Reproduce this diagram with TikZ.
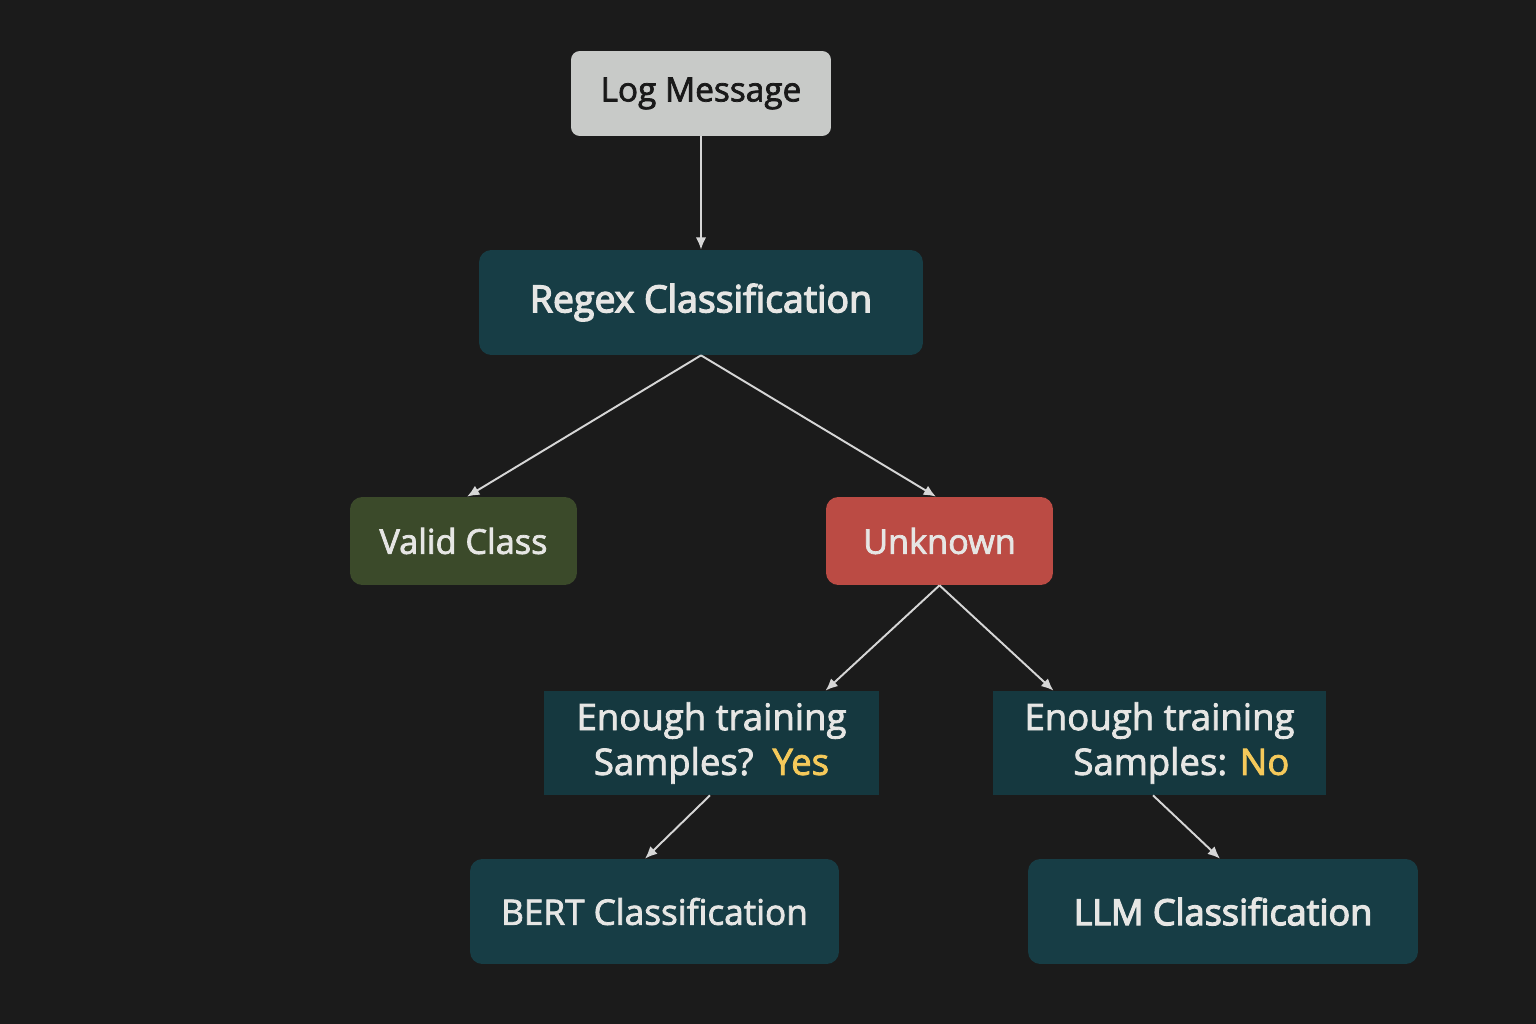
\documentclass[tikz,border=0pt]{standalone}
\usepackage{fontspec}
\setmainfont{Open Sans}[FakeBold=2.2]
\newfontfamily\semifont{Open Sans}[FakeBold=3.5]
\usepackage{tikz}
\usetikzlibrary{
	positioning
	,arrows.meta
}
\definecolor{bgdark}{HTML}{1B1B1B}
\definecolor{boxteal}{HTML}{173D45}
\definecolor{boxgrey}{HTML}{C8CAC8}
\definecolor{boxgreen}{HTML}{3B4A2A}
\definecolor{boxred}{HTML}{BB4B44}
\definecolor{txtlight}{HTML}{E6E6E4}
\definecolor{txtyellow}{HTML}{F5C95A}
\definecolor{linegrey}{HTML}{D6D6D6}
\tikzset{
	base box/.style={
		inner sep=0mm,
		align=center,
		text=txtlight,
		font=\fontsize{20}{25.5}\selectfont,
	},
	round box/.style={
		base box,
		rounded corners=7pt,
	},
	grey box/.style={
		round box, fill=boxgrey, text=black!90,
		minimum width=5.2cm, minimum height=1.7cm,
		rounded corners=5pt,
	},
	teal box/.style={
		round box, fill=boxteal,
		minimum height=2.1cm,
	},
	green box/.style={
		round box, fill=boxgreen,
		minimum width=4.54cm, minimum height=1.76cm,
	},
	red box/.style={
		round box, fill=boxred,
		minimum width=4.54cm, minimum height=1.76cm,
	},
	ask box/.style={
		base box, fill=boxteal!92!black,
		minimum height=2.08cm,
		font=\fontsize{20.8}{25.5}\selectfont,
	},
	link/.style={
		-{Latex[length=7pt,width=6pt]},
		draw=linegrey,
		line width=1.1pt,
	}
}

\begin{document}
\begin{tikzpicture}[x=0.02cm, y=-0.02cm]

\fill[bgdark] (0,0) rectangle (1536,1024);
\useasboundingbox (0,0) rectangle (1536,1024);

\node[grey box, font=\fontsize{19}{24}\selectfont] (log) at (701,93.5) {Log Message};
\node[teal box, minimum width=8.88cm, font=\fontsize{21.3}{24}\semifont] (regex) at (701,302.5) {Regex Classification};

\node[green box, font=\fontsize{19.5}{24}\selectfont] (valid) at (463.5,541) {Valid Class};
\node[red box, font=\fontsize{19.5}{24}\selectfont] (unknown) at (939.5,541) {Unknown};

\node[ask box, minimum width=6.7cm] (yes) at (711.5,743) {Enough training\\Samples?\ \ {\color{txtyellow}Yes}};
\node[ask box, minimum width=6.66cm] (no) at (1159.5,743) {Enough training\\\hspace*{1.2em}Samples: {\color{txtyellow}No}};

\node[teal box, minimum width=7.38cm] (bert) at (654.5,911.5) {BERT Classification};
\node[teal box, minimum width=7.8cm, font=\fontsize{20.5}{24}\semifont] (llm) at (1223,911.5) {LLM Classification};

% edges
\draw[link] (log.south) -- (regex.north);
\draw[link] (regex.south) -- ([xshift=0.07cm]valid.north);
\draw[link] (regex.south) -- ([xshift=-0.07cm]unknown.north);
\draw[link] (unknown.south) -- ([xshift=2.28cm]yes.north);
\draw[link] (unknown.south) -- ([xshift=-2.12cm]no.north);
\draw[link] ([xshift=-0.03cm]yes.south) -- ([xshift=-0.19cm]bert.north);
\draw[link] ([xshift=-0.13cm]no.south) -- ([xshift=-0.06cm]llm.north);
\end{tikzpicture}
\end{document}
